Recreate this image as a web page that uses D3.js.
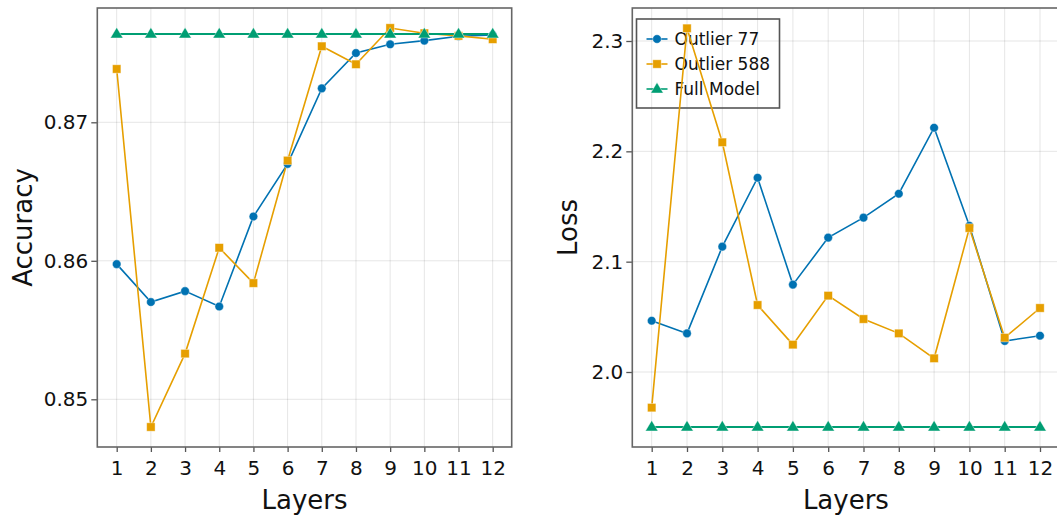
<!DOCTYPE html>
<html>
<head>
<meta charset="utf-8">
<script src="https://cdn.jsdelivr.net/npm/d3@7"></script>
<style>
  html, body { margin: 0; padding: 0; background: #fff; }
  svg { display: block; font-family: "DejaVu Sans", sans-serif; }
</style>
</head>
<body>
<svg id="chart" width="1057" height="516"></svg>
<script>
// Layer index on the x axis
const layers = [1, 2, 3, 4, 5, 6, 7, 8, 9, 10, 11, 12];

// Accuracy per layer
const accOutlier77  = [0.85976, 0.85702, 0.85781, 0.85670, 0.86320, 0.86700, 0.87245, 0.87500, 0.87563, 0.87590, 0.87621, 0.87630];
const accOutlier588 = [0.87385, 0.84800, 0.85330, 0.86094, 0.85839, 0.86724, 0.87549, 0.87419, 0.87681, 0.87643, 0.87624, 0.87600];
const accFullModel  = [0.87638, 0.87638, 0.87638, 0.87638, 0.87638, 0.87638, 0.87638, 0.87638, 0.87638, 0.87638, 0.87638, 0.87638];

// Loss per layer
const lossOutlier77  = [2.0465, 2.0350, 2.1136, 2.1761, 2.0792, 2.1218, 2.1399, 2.1616, 2.2214, 2.1326, 2.0281, 2.0329];
const lossOutlier588 = [1.9677, 2.3115, 2.2082, 2.0607, 2.0248, 2.0692, 2.0480, 2.0350, 2.0124, 2.1305, 2.0311, 2.0580];
const lossFullModel  = [1.9502, 1.9502, 1.9502, 1.9502, 1.9502, 1.9502, 1.9502, 1.9502, 1.9502, 1.9502, 1.9502, 1.9502];

// Tick values
const accTicks  = [0.85, 0.86, 0.87];
const lossTicks = [2.0, 2.1, 2.2, 2.3];

const seriesNames = ["Outlier 77", "Outlier 588", "Full Model"];
const colors = { "Outlier 77": "#0072B2", "Outlier 588": "#E69F00", "Full Model": "#009E73" };
const shapes = { "Outlier 77": "circle", "Outlier 588": "square", "Full Model": "triangle" };

const svg = d3.select("#chart");

function drawMarker(g, shape, x, y, color) {
  if (shape === "circle") {
    g.append("circle").attr("cx", x).attr("cy", y).attr("r", 4.3)
      .attr("fill", color).attr("stroke", "#fff").attr("stroke-opacity", 0.5).attr("stroke-width", 0.8);
  } else if (shape === "square") {
    g.append("rect").attr("x", x - 4.2).attr("y", y - 4.2).attr("width", 8.4).attr("height", 8.4)
      .attr("fill", color).attr("stroke", "#fff").attr("stroke-opacity", 0.5).attr("stroke-width", 0.8);
  } else {
    const h = 10.5, w = 12.5;
    g.append("path")
      .attr("d", `M${x},${y - h * 0.62}L${x + w / 2},${y + h * 0.38}L${x - w / 2},${y + h * 0.38}Z`)
      .attr("fill", color).attr("stroke", "#fff").attr("stroke-opacity", 0.5).attr("stroke-width", 0.8);
  }
}

function panel(opts) {
  const { frame, xRange, yDomain, yRange, yTicks, yFormat, yTitle, yTitleX, data, legend } = opts;
  const g = svg.append("g");

  const x = d3.scaleLinear().domain([1, 12]).range(xRange);
  const y = d3.scaleLinear().domain(yDomain).range(yRange);

  // grid
  g.append("g").selectAll("line").data(layers).join("line")
    .attr("x1", d => x(d)).attr("x2", d => x(d))
    .attr("y1", frame.top).attr("y2", frame.bottom)
    .attr("stroke", "#000").attr("stroke-opacity", 0.1).attr("stroke-width", 1);
  g.append("g").selectAll("line").data(yTicks).join("line")
    .attr("x1", frame.left).attr("x2", frame.right)
    .attr("y1", d => y(d)).attr("y2", d => y(d))
    .attr("stroke", "#000").attr("stroke-opacity", 0.1).attr("stroke-width", 1);

  // axes
  const xAxis = g.append("g").attr("transform", `translate(0,${frame.bottom})`)
    .call(d3.axisBottom(x).tickValues(layers).tickFormat(d3.format("d")).tickSize(5).tickSizeOuter(0).tickPadding(9));
  const yAxis = g.append("g").attr("transform", `translate(${frame.left},0)`)
    .call(d3.axisLeft(y).tickValues(yTicks).tickFormat(yFormat).tickSize(6).tickSizeOuter(0).tickPadding(3));
  [xAxis, yAxis].forEach(a => {
    a.select(".domain").remove();
    a.selectAll(".tick line").attr("stroke", "#555").attr("stroke-width", 1.3);
    a.selectAll(".tick text").attr("fill", "#111").style("font-size", "20px")
      .style("font-family", "'DejaVu Sans', sans-serif");
  });

  // frame
  g.append("rect")
    .attr("x", frame.left).attr("y", frame.top)
    .attr("width", frame.right - frame.left).attr("height", frame.bottom - frame.top)
    .attr("fill", "none").attr("stroke", "#666").attr("stroke-width", 1.6);

  // titles
  g.append("text")
    .attr("x", (frame.left + frame.right) / 2 + (opts.xTitleShift || 0)).attr("y", 509)
    .attr("text-anchor", "middle").attr("fill", "#111").style("font-size", "26px")
    .text("Layers");
  g.append("text")
    .attr("transform", `translate(${yTitleX},${(frame.top + frame.bottom) / 2}) rotate(-90)`)
    .attr("text-anchor", "middle").attr("fill", "#111").style("font-size", "26px")
    .text(yTitle);

  // legend
  if (legend) {
    const lg = g.append("g");
    lg.append("rect").attr("x", legend.x).attr("y", legend.y)
      .attr("width", legend.w).attr("height", legend.h)
      .attr("fill", "none").attr("stroke", "#555").attr("stroke-width", 1.6);
    seriesNames.forEach((name, i) => {
      const cy = legend.y + 20 + i * 25;
      lg.append("line").attr("x1", legend.x + 10).attr("x2", legend.x + 31)
        .attr("y1", cy).attr("y2", cy).attr("stroke", colors[name]).attr("stroke-width", 1.6);
      drawMarker(lg, shapes[name], legend.x + 20.5, cy, colors[name]);
      lg.append("text").attr("x", legend.x + 38).attr("y", cy).attr("dy", "0.35em")
        .attr("fill", "#111").style("font-size", "17px").text(name);
    });
  }

  // series
  const line = d3.line().x((d, i) => x(layers[i])).y(d => y(d));
  seriesNames.forEach(name => {
    const vals = data[name];
    g.append("path").datum(vals).attr("d", line)
      .attr("fill", "none").attr("stroke", colors[name])
      .attr("stroke-width", name === "Full Model" ? 2 : 1.6);
  });
  seriesNames.forEach(name => {
    const mg = g.append("g");
    data[name].forEach((v, i) => drawMarker(mg, shapes[name], x(layers[i]), y(v), colors[name]));
  });
}

panel({
  frame: { left: 97.3, right: 511.7, top: 8, bottom: 447 },
  xRange: [116.7, 492.7],
  yDomain: [0.85, 0.87],
  yRange: [399.3, 122.3],
  yTicks: accTicks,
  yFormat: d3.format(".2f"),
  yTitle: "Accuracy",
  yTitleX: 32,
  data: { "Outlier 77": accOutlier77, "Outlier 588": accOutlier588, "Full Model": accFullModel }
});

panel({
  frame: { left: 632.3, right: 1059.5, top: 8, bottom: 447 },
  xRange: [651.7, 1040],
  yDomain: [2.0, 2.3],
  yRange: [372, 41],
  yTicks: lossTicks,
  yFormat: d3.format(".1f"),
  yTitle: "Loss",
  yTitleX: 577,
  xTitleShift: 0,
  data: { "Outlier 77": lossOutlier77, "Outlier 588": lossOutlier588, "Full Model": lossFullModel },
  legend: { x: 636.5, y: 19, w: 143, h: 89 }
});
</script>
</body>
</html>
